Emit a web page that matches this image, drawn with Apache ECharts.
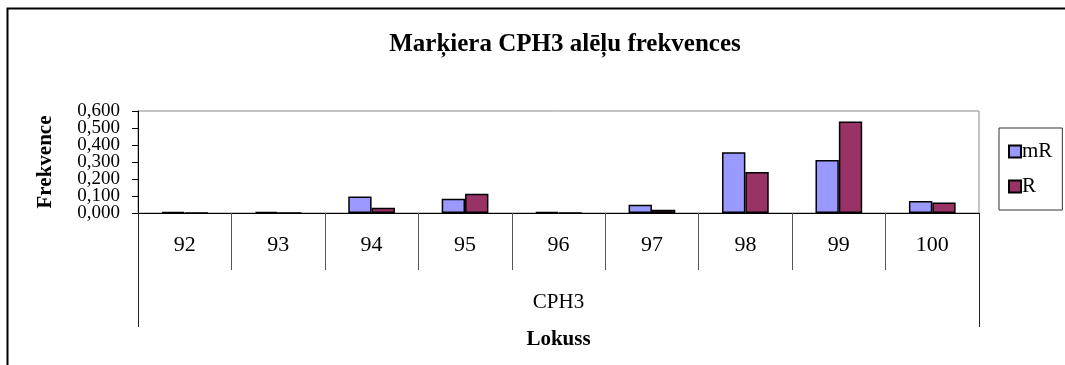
<!DOCTYPE html>
<html>
<head>
<meta charset="utf-8">
<script src="https://cdn.jsdelivr.net/npm/echarts@6/dist/echarts.min.js"></script>
<style>
  html, body { margin: 0; padding: 0; background: #ffffff; }
  #chart { width: 1065px; height: 365px; }
</style>
</head>
<body>
<div id="chart"></div>
<script>
// Allele frequencies of the CPH3 marker in two groups
const categories = ['92', '93', '94', '95', '96', '97', '98', '99', '100'];
const groupLabel = ['CPH3'];
const seriesNames = ['mR', 'R'];
const mRValues = [0.007, 0.007, 0.097, 0.084, 0.007, 0.049, 0.358, 0.312, 0.070];
const rValues = [0, 0, 0.031, 0.113, 0, 0.019, 0.241, 0.538, 0.062];
const yTickValues = [0, 0.1, 0.2, 0.3, 0.4, 0.5, 0.6];

const serif = '"Liberation Serif", "DejaVu Serif", serif';
const fmt = v => v.toFixed(3).replace('.', ',');

// The tick labels sit closer together than their height, so they are split
// over two overlaid axes (even and odd steps) to keep every label visible.
const evenTicks = yTickValues.filter((_, i) => i % 2 === 0);
const oddTicks = yTickValues.filter((_, i) => i % 2 === 1);

const labelStyle = {
  margin: 18,
  fontFamily: serif,
  fontSize: 19,
  color: '#000',
  lineHeight: 14,
  formatter: fmt
};

const chart = echarts.init(document.getElementById('chart'), null, { renderer: 'canvas' });

chart.setOption({
  animation: false,
  backgroundColor: '#ffffff',
  textStyle: { fontFamily: serif, color: '#000' },
  title: {
    text: 'Marķiera CPH3 alēļu frekvences',
    left: 560,
    top: 27,
    textAlign: 'center',
    textStyle: { fontFamily: serif, fontWeight: 'bold', fontSize: 25, color: '#000' }
  },
  legend: {
    orient: 'vertical',
    left: 999,
    top: 128,
    padding: [13, 10, 13, 9],
    itemGap: 14,
    itemWidth: 12,
    itemHeight: 12,
    borderColor: '#333',
    borderWidth: 1,
    icon: 'rect',
    textStyle: { fontFamily: serif, fontSize: 21, color: '#000', padding: [0, 0, 0, -4] },
    data: seriesNames
  },
  grid: {
    left: 138,
    right: 86,
    top: 111,
    bottom: 152,
    show: true,
    borderColor: '#8a8a8a',
    borderWidth: 1
  },
  xAxis: [
    {
      type: 'category',
      data: categories,
      position: 'bottom',
      axisLine: { lineStyle: { color: '#000', width: 1 } },
      axisTick: { show: true, interval: 0, length: 57, lineStyle: { color: '#555', width: 1 } },
      axisLabel: { interval: 0, margin: 21, fontFamily: serif, fontSize: 22, color: '#000' }
    },
    {
      type: 'category',
      data: groupLabel,
      position: 'bottom',
      axisLine: { show: false },
      axisTick: { show: true, length: 114, lineStyle: { color: '#222', width: 1 } },
      axisLabel: { margin: 79, fontFamily: serif, fontSize: 21, color: '#000' },
      name: 'Lokuss',
      nameLocation: 'middle',
      nameGap: 116,
      nameTextStyle: { fontFamily: serif, fontWeight: 'bold', fontSize: 21, color: '#000' }
    }
  ],
  yAxis: [
    {
      type: 'value',
      position: 'left',
      min: yTickValues[0],
      max: yTickValues[yTickValues.length - 1],
      interval: 0.1,
      name: 'Frekvence',
      nameLocation: 'middle',
      nameGap: 82,
      nameRotate: 90,
      nameTextStyle: { fontFamily: serif, fontWeight: 'bold', fontSize: 21, color: '#000' },
      axisLine: { show: true, lineStyle: { color: '#000', width: 1 } },
      axisTick: { show: true, inside: false, length: 6, customValues: yTickValues, lineStyle: { color: '#000', width: 1 } },
      splitLine: { show: false },
      axisLabel: Object.assign({ customValues: evenTicks, showMinLabel: true, showMaxLabel: true }, labelStyle)
    },
    {
      type: 'value',
      position: 'left',
      offset: 0,
      min: yTickValues[0],
      max: yTickValues[yTickValues.length - 1],
      interval: 0.1,
      axisLine: { show: false },
      axisTick: { show: false },
      splitLine: { show: false },
      axisLabel: Object.assign({ customValues: oddTicks }, labelStyle)
    }
  ],
  series: [
    {
      name: seriesNames[0],
      type: 'bar',
      data: mRValues,
      barGap: '0%',
      barCategoryGap: '50%',
      itemStyle: { color: '#9999ff', borderColor: '#000', borderWidth: 1.5 }
    },
    {
      name: seriesNames[1],
      type: 'bar',
      data: rValues,
      barGap: '0%',
      barCategoryGap: '50%',
      itemStyle: { color: '#993366', borderColor: '#000', borderWidth: 1.5 }
    }
  ],
  graphic: [
    {
      type: 'polyline',
      silent: true,
      shape: { points: [[7.5, 365], [7.5, 8.5], [1065, 8.5]] },
      style: { stroke: '#000', lineWidth: 2, fill: null }
    }
  ]
});
</script>
</body>
</html>
